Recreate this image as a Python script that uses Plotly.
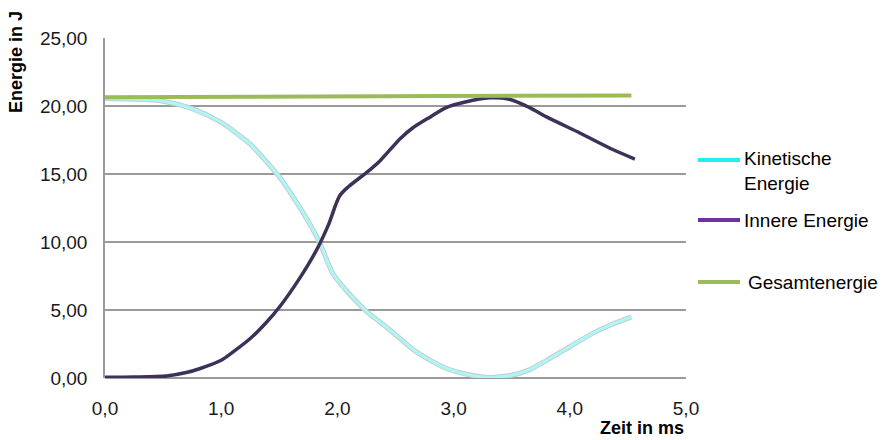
import plotly.graph_objects as go

# Data
x_kin = [0, 0.25, 0.5, 0.75, 1.0, 1.1, 1.25, 1.4, 1.5, 1.62, 1.75, 1.85, 1.96, 2.05,
         2.25, 2.4, 2.54, 2.65, 2.8, 2.94, 3.1, 3.29, 3.5, 3.65, 3.8, 4.0, 4.2, 4.35, 4.53]
y_kin = [20.55, 20.5, 20.35, 19.8, 18.8, 18.2, 17.2, 15.8, 14.8, 13.3, 11.5, 9.9, 7.7, 6.7,
         4.9, 3.9, 2.9, 2.1, 1.3, 0.7, 0.3, 0.05, 0.2, 0.6, 1.3, 2.3, 3.3, 3.9, 4.5]

x_inn = [0, 0.25, 0.53, 0.7, 0.82, 1.0, 1.1, 1.25, 1.39, 1.5, 1.68, 1.82, 1.92, 2.02, 2.1,
         2.25, 2.37, 2.54, 2.65, 2.8, 2.94, 3.1, 3.31, 3.48, 3.65, 3.8, 4.09, 4.37, 4.56]
y_inn = [0.05, 0.07, 0.15, 0.4, 0.7, 1.3, 1.9, 2.9, 4.1, 5.2, 7.4, 9.4, 11.2, 13.4, 14.1,
         15.1, 16.0, 17.6, 18.4, 19.2, 19.9, 20.3, 20.6, 20.5, 19.9, 19.2, 18.0, 16.8, 16.1]

x_ges = [0, 1.5, 3.0, 4.53]
y_ges = [20.65, 20.68, 20.72, 20.78]

x_ticks = [0, 1, 2, 3, 4, 5]
y_ticks = [0, 5, 10, 15, 20, 25]

legend_names = ["Kinetische<br>Energie", "Innere Energie", "Gesamtenergie"]
legend_colors = ["#22eef0", "#7030a0", "#9bbb59"]

FONT = "Liberation Sans, Arial, sans-serif"

fig = go.Figure()
# kinetic: grey outline + light cyan core
fig.add_trace(go.Scatter(x=x_kin, y=y_kin, mode="lines",
                         line=dict(color="#c4cccc", width=5, shape="spline", smoothing=0.8),
                         showlegend=False, hoverinfo="skip"))
fig.add_trace(go.Scatter(x=x_kin, y=y_kin, mode="lines",
                         line=dict(color="#aef6f6", width=3, shape="spline", smoothing=0.8),
                         name="Kinetische Energie", showlegend=False))
fig.add_trace(go.Scatter(x=x_inn, y=y_inn, mode="lines",
                         line=dict(color="#3e3158", width=3.5, shape="spline", smoothing=0.8),
                         name="Innere Energie", showlegend=False))
fig.add_trace(go.Scatter(x=x_ges, y=y_ges, mode="lines", line=dict(color="#9bbb59", width=4),
                         name="Gesamtenergie", showlegend=False))

# custom legend
leg_y = [160, 220, 282]
text_y = [171, 220, 282]
text_x = [742, 742, 746]
shapes = []
annotations = []
for i in range(3):
    shapes.append(dict(type="line", xref="paper", yref="paper",
                       x0=(698 - 105) / 581, x1=(740 - 105) / 581,
                       y0=(378 - leg_y[i]) / 340, y1=(378 - leg_y[i]) / 340,
                       line=dict(color=legend_colors[i], width=4)))
    annotations.append(dict(xref="paper", yref="paper", x=(text_x[i] - 105) / 581,
                            y=(378 - text_y[i]) / 340, xanchor="left", yanchor="middle",
                            text=legend_names[i], showarrow=False, align="left",
                            font=dict(family=FONT, size=19, color="#000")))

annotations.append(dict(xref="paper", yref="paper", x=-(105 - 16) / 581, y=(378 - 62) / 340,
                        text="<b>Energie in J</b>", textangle=-90, showarrow=False,
                        xanchor="center", yanchor="middle",
                        font=dict(family=FONT, size=18, color="#000")))
annotations.append(dict(xref="paper", yref="paper", x=1.0, y=-(428 - 378) / 340,
                        text="<b>Zeit in ms</b>", showarrow=False,
                        xanchor="right", yanchor="middle",
                        font=dict(family=FONT, size=18, color="#000")))

fig.update_layout(
    width=884, height=440,
    margin=dict(l=105, r=198, t=38, b=62),
    paper_bgcolor="white", plot_bgcolor="white",
    separators=", ",
    font=dict(family=FONT, size=19, color="#1a1a1a"),
    shapes=shapes, annotations=annotations,
    xaxis=dict(range=[0, 5], tickvals=x_ticks, tickformat=".1f", showgrid=False,
               showline=False, zeroline=False, ticks="outside", ticklen=13,
               tickcolor="rgba(0,0,0,0)"),
    yaxis=dict(range=[0, 25], tickvals=y_ticks, tickformat=".2f", showgrid=True,
               gridcolor="#9a9a9a", gridwidth=1.5, showline=True, linecolor="#9a9a9a",
               linewidth=1.5, zeroline=True, zerolinecolor="#9a9a9a", zerolinewidth=1.5,
               ticks="outside", ticklen=12, tickcolor="rgba(0,0,0,0)"),
)

fig.write_html("out.html")
